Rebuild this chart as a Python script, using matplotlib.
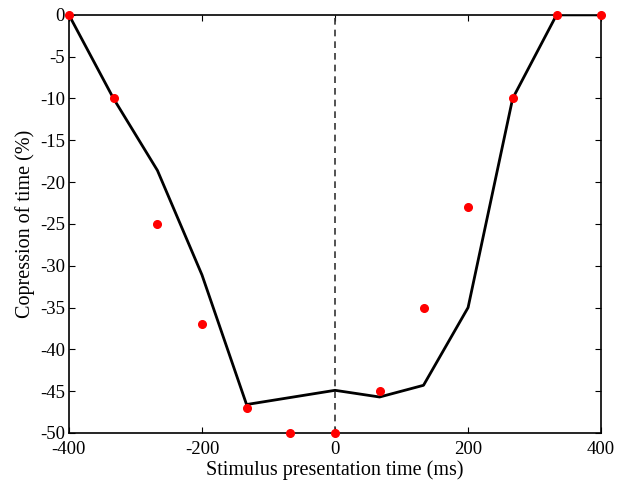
import matplotlib
matplotlib.use('Agg')
import matplotlib.pyplot as plt

# averaged curve (black line)
line_x = [-400, -333, -267, -200, -133, 0, 67, 133, 200, 267, 333, 400]
line_y = [0, -10, -18.6, -31.1, -46.6, -44.9, -45.7, -44.3, -35.0, -10, 0, 0]

# measured points (red dots)
dot_x = [-400, -333, -267, -200, -133, -67, 0, 67, 133, 200, 267, 333, 400]
dot_y = [0, -10, -25, -37, -47, -50, -50, -45, -35, -23, -10, 0, 0]

plt.rcParams['font.family'] = ['Liberation Serif', 'DejaVu Serif']
plt.rcParams['axes.unicode_minus'] = False

fig = plt.figure(figsize=(6.21, 4.8), dpi=100)
ax = fig.add_axes([0.111, 0.098, 0.857, 0.871])

ax.axvline(0, color='#333333', linestyle='--', linewidth=1.2, dashes=(4, 3))
ax.plot(line_x, line_y, color='black', linewidth=2)
ax.plot(dot_x, dot_y, 'o', color='red', markersize=5.5, clip_on=False, zorder=5)

ax.set_xlim(-400, 400)
ax.set_ylim(-50, 0)
ax.set_xticks([-400, -200, 0, 200, 400])
ax.set_yticks(range(-50, 1, 5))
ax.tick_params(direction='in', top=True, right=True, length=4, labelsize=13.5)
ax.tick_params(axis='x', pad=5.5)
ax.tick_params(axis='y', pad=3)
for s in ax.spines.values():
    s.set_linewidth(1.2)

ax.set_xlabel('Stimulus presentation time (ms)', fontsize=14.5, va='center')
ax.xaxis.set_label_coords(0.5, -0.089)
ax.set_ylabel('Copression of time (%)', fontsize=14.5, va='center')
ax.yaxis.set_label_coords(-0.083, 0.5)

fig.savefig('out.png', dpi=100)
